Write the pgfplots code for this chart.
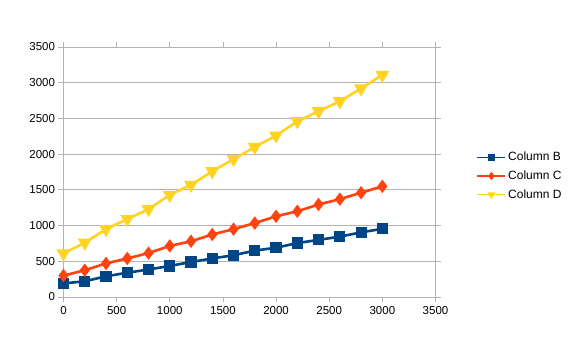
\documentclass[border=0pt]{standalone}
\usepackage{pgfplots}
\pgfplotsset{compat=1.18}
\usepackage{fontspec}
\setmainfont{Liberation Sans}
\definecolor{colB}{HTML}{004586}
\definecolor{colC}{HTML}{FF420E}
\definecolor{colD}{HTML}{FFD320}
\definecolor{gridc}{HTML}{B3B3B3}
\begin{document}
\begin{tikzpicture}[x=1pt,y=1pt]
\begin{axis}[
  name=ax,
  scale only axis,
  width=372pt, height=250pt,
  xmin=0, xmax=3500, ymin=0, ymax=3500,
  xtick={0,500,...,3500}, ytick={0,500,...,3500},
  axis line style={gridc, line width=0.8pt},
  ymajorgrids, grid style={gridc, line width=0.8pt},
  tick align=outside, tick style={gridc, line width=0.8pt},
  major tick length=5pt,
  tick label style={font=\fontsize{11.5}{13}\selectfont},
  /pgf/number format/assume math mode=true,
  /pgf/number format/1000 sep={},
  xticklabel style={yshift=-1pt},
  legend style={draw=none, fill=none, at={(1,0.484)}, anchor=west, xshift=38pt,
    font=\fontsize{12}{14}\selectfont, row sep=4.5pt},
  legend cell align=left,
  legend image code/.code={\draw[mark repeat=2,mark phase=2,#1,line width=1.5pt,mark size=3pt] plot coordinates {(0pt,0pt)(14pt,0pt)(28pt,0pt)};},
  clip=false,
]
\addplot[colB, line width=2.6pt, mark=square*, mark size=4.3pt, mark options={solid}] coordinates {
(0,190)(200,220)(400,290)(600,340)(800,385)(1000,435)(1200,490)(1400,540)
(1600,585)(1800,650)(2000,690)(2200,755)(2400,800)(2600,845)(2800,905)(3000,955)};
\addlegendentry{Column B}
\addplot[colC, line width=2.6pt, mark=diamond*, mark size=4.6pt, mark options={solid}] coordinates {
(0,300)(200,375)(400,470)(600,540)(800,615)(1000,715)(1200,780)(1400,875)
(1600,950)(1800,1035)(2000,1130)(2200,1200)(2400,1295)(2600,1370)(2800,1460)(3000,1550)};
\addlegendentry{Column C}
\addplot[colD, line width=2.6pt, mark=triangle*, mark size=5.5pt, mark options={solid, rotate=180}] coordinates {
(0,610)(200,760)(400,950)(600,1090)(800,1230)(1000,1430)(1200,1570)(1400,1760)
(1600,1930)(1800,2100)(2000,2260)(2200,2460)(2400,2600)(2600,2740)(2800,2920)(3000,3110)};
\addlegendentry{Column D}
\end{axis}
\path[use as bounding box] (ax.south west) ++(-63.5,-49) rectangle ++(575,346);
\end{tikzpicture}
\end{document}
